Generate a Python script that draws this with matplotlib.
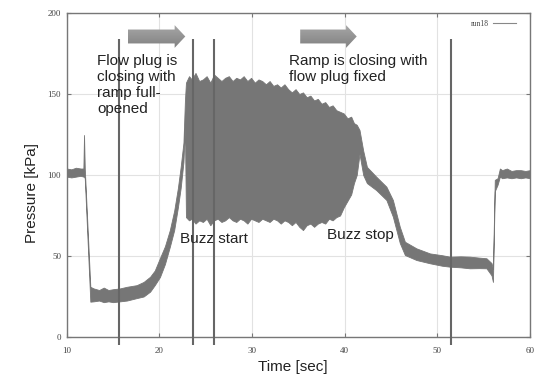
import numpy as np
import matplotlib
matplotlib.use("Agg")
import matplotlib.pyplot as plt
from matplotlib.patches import FancyArrow
from matplotlib.lines import Line2D

# ---- data ----
time_pre = [10.0, 10.5, 11.0, 11.5, 11.8, 11.87, 11.95, 12.55, 12.9, 13.5, 14.0, 14.5,
            15.0, 15.75, 16.5, 17.55, 18.3, 19.0, 19.5, 20.06, 20.6, 21.13, 21.6, 22.0,
            22.3, 22.6, 22.76]
upper_pre = [104, 103.5, 104.5, 104, 104, 124.7, 104, 31, 30, 29, 30.5, 29,
             29.5, 30, 31, 32, 34, 37.2, 41, 48.7, 56, 66, 78, 92,
             105, 120, 146]
lower_pre = [99, 98.5, 99, 99.5, 99, 99, 98, 21.8, 22, 22.5, 21.5, 22,
             21.5, 22, 22.5, 24, 25, 28, 32, 37, 45, 55.7, 66, 80,
             92, 108, 130]

time_buzz = [22.87, 23.2, 23.5, 23.9, 24.3, 24.7, 25.1, 25.5, 25.9, 26.3, 26.7, 27.1,
             27.5, 27.9, 28.3, 28.7, 29.1, 29.5, 29.9, 30.3, 30.7, 31.1, 31.5, 31.9,
             32.3, 32.7, 33.1, 33.5, 33.9, 34.3, 34.7, 35.1, 35.5, 35.9, 36.3, 36.7,
             37.1, 37.5, 37.9, 38.3, 38.7, 39.1, 39.5, 39.9, 40.3, 40.7, 41.0, 41.3]
upper_buzz = [157, 161, 159, 163, 158, 159, 161, 157, 162, 160, 158, 160,
              161, 158, 160, 159, 161, 158, 160, 157, 159, 158, 156, 158,
              155, 156, 154, 156, 153, 151, 153, 150, 151, 148, 149, 146,
              147, 144, 145, 142, 143, 140, 139, 138, 135, 136, 132, 131]
lower_buzz = [74, 72, 73, 70, 72, 71, 73, 69, 72, 73, 71, 72,
              74, 72, 71, 73, 72, 70, 73, 72, 71, 73, 72, 71,
              73, 72, 70, 72, 71, 69, 71, 68, 66, 69, 70, 68,
              70, 71, 70, 73, 72, 74, 75, 80, 84, 88, 95, 100]

time_post = [41.6, 42.0, 42.4, 43.4, 44.5, 45.2, 45.95, 46.5, 47.75, 49.2, 50.5, 51.35,
             52.5, 53.5, 54.5, 55.3, 55.85, 56.0, 56.2, 56.5, 56.75, 57.0, 57.5, 58.0,
             58.5, 59.0, 59.5, 60.0]
upper_post = [127.8, 115, 105, 99, 92.8, 84.6, 68, 58.8, 54.7, 51.6, 50.5, 49.6,
              49.8, 49.6, 49, 48.6, 45.6, 42, 97, 98, 104, 103, 104, 102.5,
              103, 103, 102.5, 103]
lower_post = [113, 100, 95, 90.7, 84.6, 74.3, 58, 50.6, 47.5, 45.5, 44, 43.4,
              43, 42.4, 42.5, 42.4, 38, 34, 90, 94, 99, 98, 98.5, 98,
              98.5, 98, 98.5, 98]

event_times = [15.6, 23.66, 25.9, 51.45]
arrow_start = [16.6, 35.2]
arrow_end = [22.8, 41.3]
arrow_level = 185.5
x_ticks = [10, 20, 30, 40, 50, 60]
y_ticks = [0, 50, 100, 150, 200]
series_name = "run18"

time_s = time_pre + time_buzz + time_post
p_upper = upper_pre + upper_buzz + upper_post
p_lower = lower_pre + lower_buzz + lower_post

# ---- figure ----
fig = plt.figure(figsize=(5.34, 3.78), dpi=100)
ax = fig.add_axes([66.7 / 534, 41 / 378, 463.3 / 534, 324 / 378])

gray = "#767676"
ax.fill_between(time_s, p_lower, p_upper, color=gray, linewidth=0.6,
                edgecolor=gray, zorder=3)

ax.vlines(event_times, -5, 184, colors="#666666", linewidth=1.5,
          clip_on=False, zorder=4)

# gradient arrows
shade = np.linspace(0.66, 0.50, 64)
grad = np.dstack([shade, shade, shade]).reshape(-1, 1, 3)
for xs, xe in zip(arrow_start, arrow_end):
    arr = FancyArrow(xs, arrow_level, xe - xs, 0, width=8.6, head_width=14.0,
                     head_length=1.15, length_includes_head=True,
                     facecolor="none", edgecolor="none", zorder=5)
    ax.add_patch(arr)
    im = ax.imshow(grad, extent=[xs, xe, arrow_level - 7.5, arrow_level + 7.5],
                   aspect="auto", origin="upper", zorder=5,
                   interpolation="bilinear")
    im.set_clip_path(arr)

txt_font = ["Liberation Sans", "DejaVu Sans"]
ax.text(13.27, 175, "Flow plug is\nclosing with\nramp full-\nopened",
        fontsize=11, family=txt_font, va="top", ha="left", color="#222222",
        linespacing=1.2, zorder=6)
ax.text(33.95, 175, "Ramp is closing with\nflow plug fixed",
        fontsize=11, family=txt_font, va="top", ha="left", color="#222222",
        linespacing=1.2, zorder=6)
ax.text(22.23, 60.2, "Buzz start", fontsize=11, family=txt_font,
        va="center", ha="left", color="#222222", zorder=6)
ax.text(38.13, 63, "Buzz stop", fontsize=11, family=txt_font,
        va="center", ha="left", color="#222222", zorder=6)

ax.set_xlim(10, 60)
ax.set_ylim(0, 200)
ax.set_xticks(x_ticks)
ax.set_yticks(y_ticks)
ax.grid(True, color="#e2e2e2", linewidth=0.8, zorder=0)
ax.set_axisbelow(True)
ax.tick_params(direction="in", length=3, width=0.8, color="#777777",
               top=True, right=True, labelsize=6.5, labelcolor="#444444")
ax.tick_params(axis="x", pad=7)
ax.tick_params(axis="y", pad=4)
for lab in ax.get_xticklabels() + ax.get_yticklabels():
    lab.set_family(["Liberation Serif", "DejaVu Serif"])
for sp in ax.spines.values():
    sp.set_color("#777777")
    sp.set_linewidth(1.0)

ax.set_xlabel("Time [sec]", fontsize=11, family=txt_font, color="#222222")
ax.set_ylabel("Pressure [kPa]", fontsize=11, family=txt_font, color="#222222")
ax.xaxis.set_label_coords(0.488, -0.072)
ax.xaxis.label.set_va("top")
ax.yaxis.set_label_coords(-0.06, 0.444)

handle = Line2D([], [], color="#888888", linewidth=0.8)
leg = ax.legend([handle], [series_name], loc="upper right", frameon=False,
                markerfirst=False, handlelength=3.0, handletextpad=0.6,
                bbox_to_anchor=(0.985, 1.0),
                prop={"family": ["Liberation Serif", "DejaVu Serif"], "size": 5.5})
for t in leg.get_texts():
    t.set_color("#444444")

fig.savefig("out.png", dpi=100)
